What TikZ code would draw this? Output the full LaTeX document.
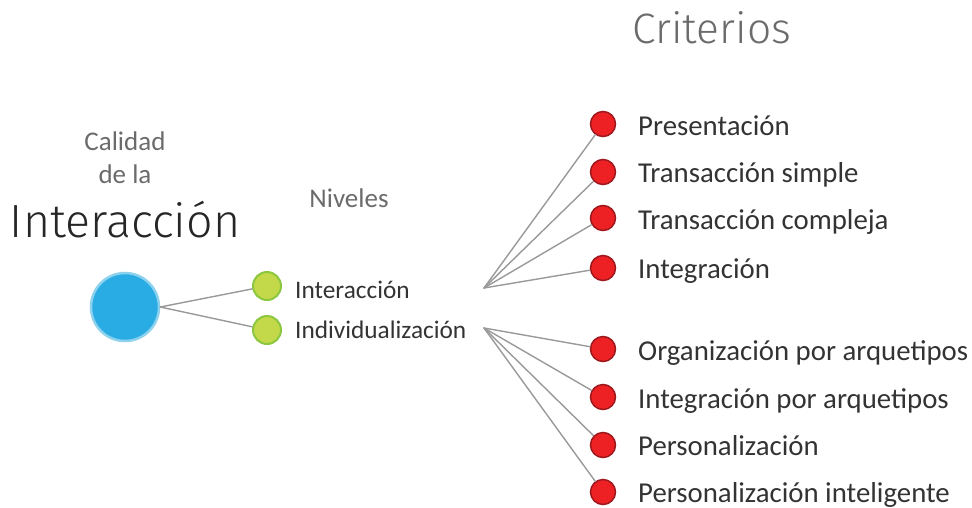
\documentclass[tikz,border=0pt]{standalone}
\usepackage{fontspec}
\setmainfont{Carlito}
\newfontfamily\titlefont{Fira Sans Light}
\usepackage{xcolor}
\usepackage{tikz}

\begin{document}
\begin{tikzpicture}[x = 1pt,
                    y = -1pt,
                    scale = 1]

  \useasboundingbox (0,0) rectangle (972,507);

  % COLORS
  \definecolor{edgecolor_c}{rgb}{ 0.6,0.6,0.6 }
  \definecolor{textcolor_c}{rgb}{ 0.2,0.2,0.2 }
  \definecolor{headcolor_c}{rgb}{ 0.42,0.42,0.42 }
  \definecolor{bluefill_c}{rgb}{ 0.16,0.67,0.89 }
  \definecolor{blueedge_c}{rgb}{ 0.55,0.82,0.93 }
  \definecolor{greenfill_c}{rgb}{ 0.77,0.85,0.29 }
  \definecolor{greenedge_c}{rgb}{ 0.55,0.78,0.25 }
  \definecolor{redfill_c}{rgb}{ 0.93,0.13,0.14 }
  \definecolor{rededge_c}{rgb}{ 0.62,0.09,0.11 }


  % STYLES
  \tikzstyle{linkstyle_c} = [draw=edgecolor_c, line width=1.4 pt, line cap=round]
  \tikzstyle{rootdot_c} = [circle, fill=bluefill_c, draw=blueedge_c, line width=2.5 pt, minimum size=68pt, inner sep=0pt]
  \tikzstyle{leveldot_c} = [circle, fill=greenfill_c, draw=greenedge_c, line width=2 pt, minimum size=28pt, inner sep=0pt]
  \tikzstyle{critdot_c} = [circle, fill=redfill_c, draw=rededge_c, line width=1.5 pt, minimum size=25pt, inner sep=0pt]
  \tikzstyle{crittext_c} = [anchor=base west, inner sep=0pt, text=textcolor_c, font=\fontsize{28.8}{30}\selectfont]
  \tikzstyle{leveltext_c} = [anchor=base west, inner sep=0pt, text=textcolor_c, font=\fontsize{25.3}{27}\selectfont]
  \tikzstyle{headtext_c} = [anchor=base, inner sep=0pt, text=headcolor_c, font=\fontsize{27}{29}\selectfont]


  % TITLES
  \node[anchor=base, inner sep=0pt, text=headcolor_c, font=\titlefont\fontsize{42.5}{44}\selectfont] (title_crit) at (712,43) {Criterios};
  \node[headtext_c] (head_cal) at (125,150) {Calidad};
  \node[headtext_c] (head_dela) at (125,183) {de la};
  \node[anchor=base, inner sep=0pt, text=black!85, font=\titlefont\fontsize{46.5}{48}\selectfont] (title_int) at (125,237) {Interacción};
  \node[headtext_c] (head_niv) at (349,207) {Niveles};


  % DEF POINTS
  \node[rootdot_c] (root_q) at (125,307) {};
  \node[leveldot_c] (lv0_q) at (267,286) {};
  \node[leveldot_c] (lv1_q) at (267,330) {};
  \coordinate (hub0_q) at (484,288);
  \coordinate (hub1_q) at (484,328);

  \node[critdot_c] (cr0_q) at (603,124) {};
  \node[critdot_c] (cr1_q) at (603,172) {};
  \node[critdot_c] (cr2_q) at (603,218) {};
  \node[critdot_c] (cr3_q) at (603,268) {};
  \node[critdot_c] (cr4_q) at (603,349) {};
  \node[critdot_c] (cr5_q) at (603,397) {};
  \node[critdot_c] (cr6_q) at (603,445) {};
  \node[critdot_c] (cr7_q) at (603,492) {};


  % EDGES
  \draw[linkstyle_c] (root_q.east) -- (lv0_q);
  \draw[linkstyle_c] (root_q.east) -- (lv1_q);

  \draw[linkstyle_c] (hub0_q) -- (cr0_q);
  \draw[linkstyle_c] (hub0_q) -- (cr1_q);
  \draw[linkstyle_c] (hub0_q) -- (cr2_q);
  \draw[linkstyle_c] (hub0_q) -- (cr3_q);

  \draw[linkstyle_c] (hub1_q) -- (cr4_q);
  \draw[linkstyle_c] (hub1_q) -- (cr5_q);
  \draw[linkstyle_c] (hub1_q) -- (cr6_q);
  \draw[linkstyle_c] (hub1_q) -- (cr7_q);


  % LABELS
  \node[leveltext_c] (lt0_q) at (295,298) {Interacción};
  \node[leveltext_c] (lt1_q) at (295,338) {Individualización};

  \node[crittext_c] (ct0_q) at (638,135) {Presentación};
  \node[crittext_c] (ct1_q) at (638,182) {Transacción simple};
  \node[crittext_c] (ct2_q) at (638,229) {Transacción compleja};
  \node[crittext_c] (ct3_q) at (638,278) {Integración};
  \node[crittext_c] (ct4_q) at (638,360) {Organización por arquetipos};
  \node[crittext_c] (ct5_q) at (638,408) {Integración por arquetipos};
  \node[crittext_c] (ct6_q) at (638,455) {Personalización};
  \node[crittext_c] (ct7_q) at (638,502) {Personalización inteligente};

\end{tikzpicture}
\end{document}
